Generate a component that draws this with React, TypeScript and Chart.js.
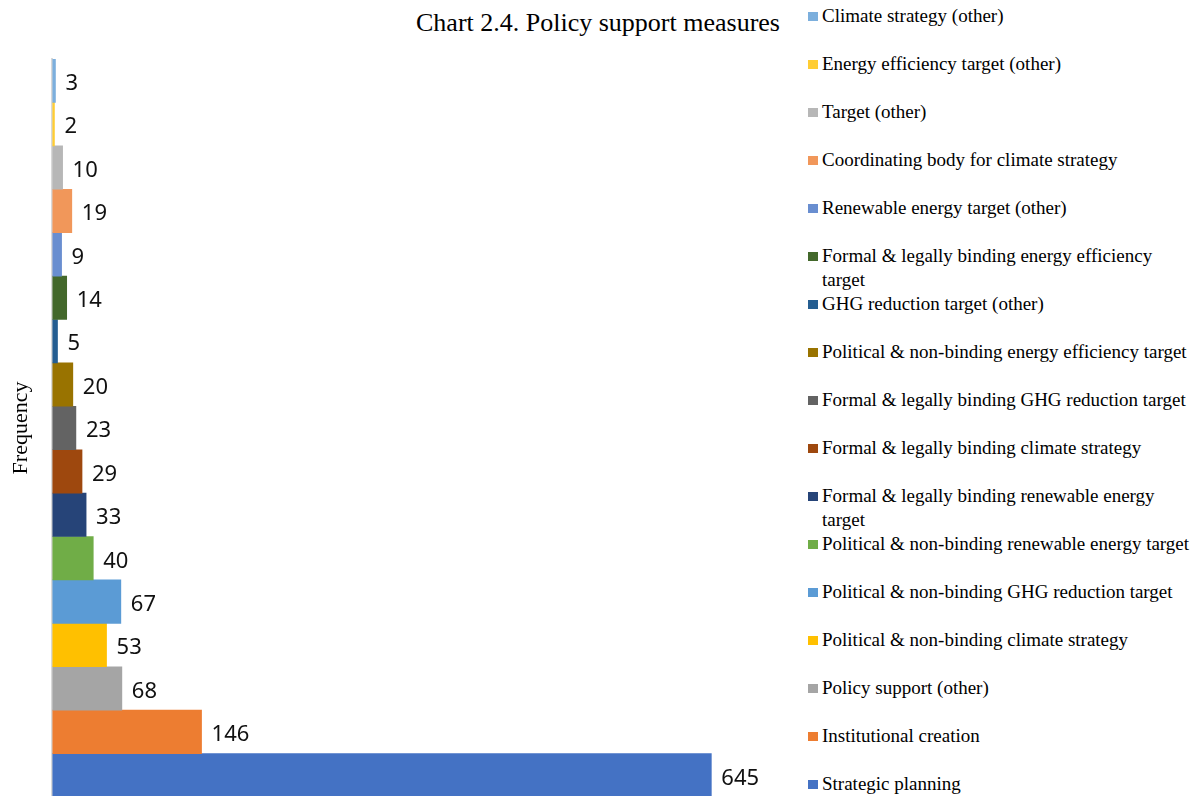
import React, { useEffect, useRef } from "react";
import { Chart, registerables } from "chart.js";

Chart.register(...registerables);

const titleText = "Chart 2.4. Policy support measures";
const axisTitle = "Frequency";

// Series (top of chart first)
const seriesNames = [
  "Climate strategy (other)",
  "Energy efficiency target (other)",
  "Target (other)",
  "Coordinating body for climate strategy",
  "Renewable energy target (other)",
  "Formal & legally binding energy efficiency target",
  "GHG reduction target (other)",
  "Political & non-binding energy efficiency target",
  "Formal & legally binding GHG reduction target",
  "Formal & legally binding climate strategy",
  "Formal & legally binding renewable energy target",
  "Political & non-binding renewable energy target",
  "Political & non-binding GHG reduction target",
  "Political & non-binding climate strategy",
  "Policy support (other)",
  "Institutional creation",
  "Strategic planning",
];

const seriesValues = [3, 2, 10, 19, 9, 14, 5, 20, 23, 29, 33, 40, 67, 53, 68, 146, 645];

const seriesColors = [
  "#7CAFDD",
  "#FFCD33",
  "#B7B7B7",
  "#F1975A",
  "#698ED0",
  "#43682B",
  "#255E91",
  "#997300",
  "#636363",
  "#9E480E",
  "#264478",
  "#70AD47",
  "#5B9BD5",
  "#FFC000",
  "#A5A5A5",
  "#ED7D31",
  "#4472C4",
];

const categories = [""];
const xMax = 722;

const valueLabelPlugin = {
  id: "valueLabels",
  afterDatasetsDraw(chart: any) {
    const ctx = chart.ctx;
    ctx.save();
    ctx.font = '22px "Noto Sans"';
    ctx.fillStyle = "#111111";
    ctx.textBaseline = "middle";
    ctx.textAlign = "left";
    chart.data.datasets.forEach((ds: any, i: number) => {
      const meta = chart.getDatasetMeta(i);
      meta.data.forEach((bar: any, j: number) => {
        ctx.fillText(String(ds.data[j]), bar.x + 10, bar.y + 3);
      });
    });
    ctx.restore();
  },
};

export default function App() {
  const canvasRef = useRef<HTMLCanvasElement | null>(null);

  useEffect(() => {
    if (!canvasRef.current) return;
    const chart = new Chart(canvasRef.current, {
      type: "bar",
      data: {
        labels: categories,
        datasets: seriesNames.map((name, i) => ({
          label: name,
          data: [seriesValues[i]],
          backgroundColor: seriesColors[i],
          borderWidth: 0,
          categoryPercentage: 1,
          barPercentage: 1,
        })),
      },
      options: {
        indexAxis: "y",
        animation: false,
        responsive: true,
        maintainAspectRatio: false,
        layout: { padding: { left: 8, top: 59, right: 10, bottom: 0 } },
        plugins: {
          legend: { display: false },
          title: { display: false },
          tooltip: { enabled: false },
        },
        scales: {
          x: { display: false, min: 0, max: xMax },
          y: {
            display: true,
            grid: { display: false, drawTicks: false },
            ticks: { display: false },
            border: { display: true, color: "#D9D9D9", width: 2 },
            title: {
              display: true,
              text: axisTitle,
              color: "#000000",
              font: { family: '"Liberation Serif", "Times New Roman", serif', size: 22 },
              padding: { top: 0, bottom: 18 },
            },
          },
        },
      },
      plugins: [valueLabelPlugin],
    });
    return () => chart.destroy();
  }, []);

  return (
    <div style={{ position: "fixed", left: 0, top: 0, width: 1199, height: 796, background: "#fff", overflow: "hidden" }}>
      <div
        style={{
          position: "absolute",
          left: 0,
          top: 10,
          width: 1196,
          textAlign: "center",
          fontFamily: '"Liberation Serif", "Times New Roman", serif',
          fontSize: 26,
          lineHeight: "26px",
          color: "#000",
          whiteSpace: "nowrap",
        }}
      >
        {titleText}
      </div>
      <div style={{ position: "absolute", left: 0, top: 0, width: 800, height: 797 }}>
        <canvas ref={canvasRef} />
      </div>
      <div style={{ position: "absolute", left: 808, top: 4, width: 390 }}>
        {seriesNames.map((name, i) => (
          <div key={name} style={{ display: "flex", alignItems: "flex-start", height: 48 }}>
            <div
              style={{
                width: 10,
                height: 9,
                marginTop: 8,
                marginRight: 4,
                background: seriesColors[i],
                flex: "none",
              }}
            />
            <div
              style={{
                width: 370,
                fontFamily: '"Liberation Serif", "Times New Roman", serif',
                fontSize: 19,
                lineHeight: "24px",
                color: "#000",
              }}
            >
              {name}
            </div>
          </div>
        ))}
      </div>
    </div>
  );
}
